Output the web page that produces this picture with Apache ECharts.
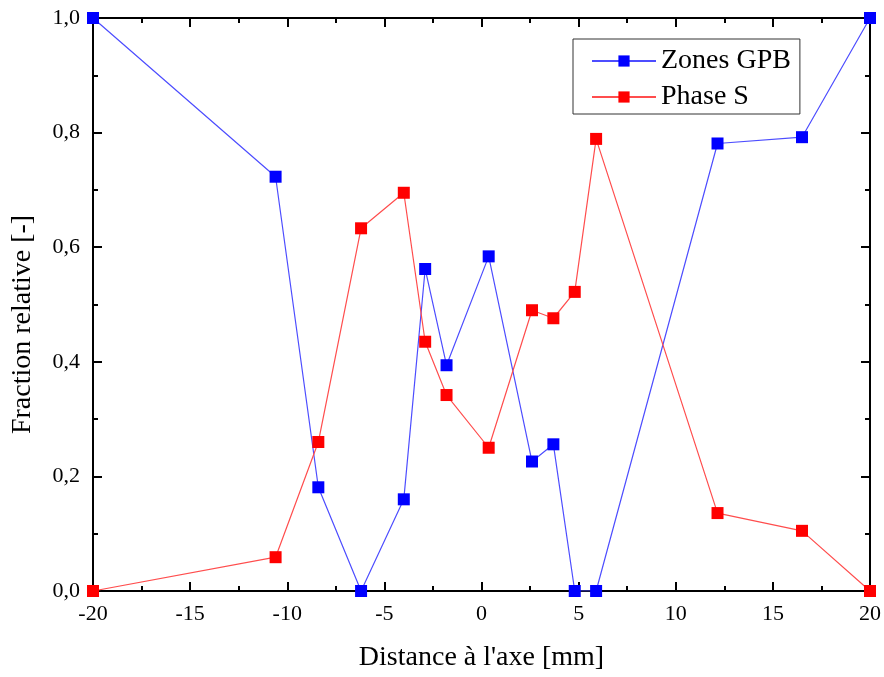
<!DOCTYPE html>
<html><head><meta charset="utf-8">
<script src="https://cdn.jsdelivr.net/npm/echarts@6/dist/echarts.min.js"></script>
<style>html,body{margin:0;padding:0;background:#fff}#c{width:884px;height:677px}</style>
</head><body><div id="c"></div>
<script>
const distances = [-20, -10.6, -8.4, -6.2, -4.0, -2.9, -1.8, 0.37, 2.6, 3.7, 4.8, 5.9, 12.15, 16.5, 20];
const zonesGPB = [1.0, 0.723, 0.181, 0.0, 0.16, 0.562, 0.394, 0.584, 0.226, 0.256, 0.0, 0.0, 0.781, 0.792, 1.0];
const phaseS   = [0.0, 0.059, 0.26, 0.633, 0.695, 0.435, 0.342, 0.25, 0.49, 0.476, 0.522, 0.789, 0.136, 0.105, 0.0];
const seriesNames = ['Zones GPB', 'Phase S'];
const xTitle = "Distance à l'axe [mm]";
const yTitle = 'Fraction relative [-]';

const font = 'Liberation Serif';
const axisLineStyle = {color:'#000', width:2};
function pairs(ys){ return distances.map((x,i)=>[x, ys[i]]); }

const chart = echarts.init(document.getElementById('c'), null, {renderer:'canvas'});
const baseX = {type:'value', min:-20, max:20, interval:5};
const baseY = {type:'value', min:0, max:1, interval:0.2};
const tick = {show:true, inside:true, length:9, lineStyle:{color:'#000', width:2}};
const minor = {show:true, splitNumber:2, length:5, lineStyle:{color:'#000', width:2}};
chart.setOption({
  animation:false,
  grid:{left:93, right:12, top:18, bottom:82},
  legend:{
    left:573, top:39, orient:'vertical',
    padding:[8,9,3,18], itemGap:8,
    itemWidth:64, itemHeight:14,
    borderColor:'#333', borderWidth:1,
    textStyle:{fontFamily:font, fontSize:28, color:'#000'},
    data:seriesNames
  },
  xAxis:[
    Object.assign({}, baseX, {
      position:'bottom',
      name:xTitle, nameLocation:'middle', nameGap:53,
      nameTextStyle:{fontFamily:font, fontSize:28, color:'#000'},
      axisLine:{show:true, onZero:false, lineStyle:axisLineStyle},
      axisTick:tick, minorTick:minor,
      axisLabel:{fontFamily:font, fontSize:22, color:'#000', margin:12},
      splitLine:{show:false}
    }),
    Object.assign({}, baseX, {
      position:'top',
      axisLine:{show:true, onZero:false, lineStyle:axisLineStyle},
      axisTick:tick, minorTick:minor,
      axisLabel:{show:false},
      splitLine:{show:false}
    })
  ],
  yAxis:[
    Object.assign({}, baseY, {
      position:'left',
      name:yTitle, nameLocation:'middle', nameGap:56, nameRotate:90,
      nameTextStyle:{fontFamily:font, fontSize:28, color:'#000', padding:[0,40,0,0]},
      axisLine:{show:true, onZero:false, lineStyle:axisLineStyle},
      axisTick:tick, minorTick:minor,
      axisLabel:{fontFamily:font, fontSize:22, color:'#000', margin:13,
        formatter:v=>v.toFixed(1).replace('.',',')},
      splitLine:{show:false}
    }),
    Object.assign({}, baseY, {
      position:'right',
      axisLine:{show:true, onZero:false, lineStyle:axisLineStyle},
      axisTick:tick, minorTick:minor,
      axisLabel:{show:false},
      splitLine:{show:false}
    })
  ],
  series:[
    {name:seriesNames[0], type:'line', data:pairs(zonesGPB), symbol:'rect', symbolSize:12,
     itemStyle:{color:'#0000ff'}, lineStyle:{color:'#4d4dff', width:1.2}, clip:true, z:2},
    {name:seriesNames[1], type:'line', data:pairs(phaseS), symbol:'rect', symbolSize:12,
     itemStyle:{color:'#ff0000'}, lineStyle:{color:'#ff4d4d', width:1.2}, clip:true, z:3}
  ]
});
</script></body></html>
